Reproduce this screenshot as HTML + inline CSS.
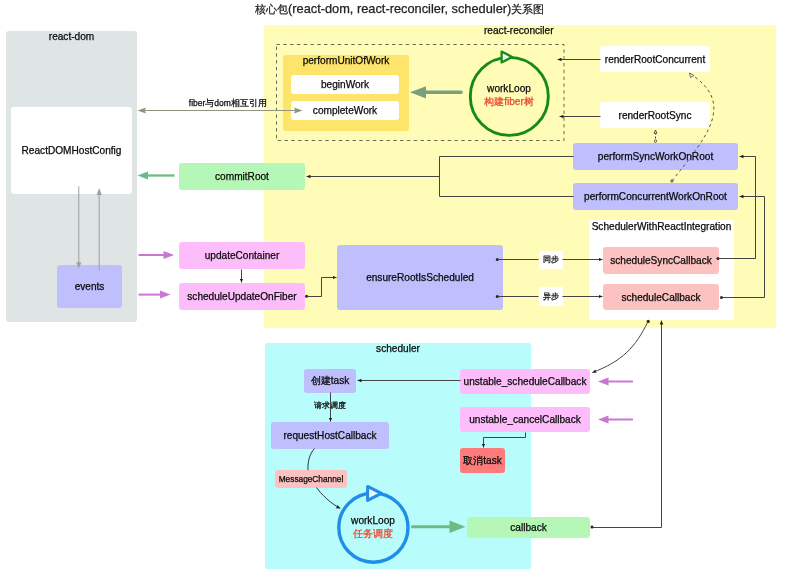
<!DOCTYPE html>
<html><head><meta charset="utf-8">
<style>
html,body{margin:0;padding:0;background:#fff;}
body{width:800px;height:576px;position:relative;overflow:hidden;font-family:"Liberation Sans",sans-serif;color:#0a0a0a;-webkit-text-stroke:0.25px currentColor;}
.b{position:absolute;box-sizing:border-box;display:flex;align-items:center;justify-content:center;font-size:10.1px;white-space:nowrap;border-radius:3px;}
.t{position:absolute;white-space:nowrap;font-size:10.1px;line-height:1;}
svg{position:absolute;left:0;top:0;}
</style></head><body><div style="position:absolute;left:0;top:0;width:800px;height:576px;filter:blur(0.25px)">
<div class="t" style="left:255px;top:3px;font-size:12.8px;color:#222"><span style="font-size:11.35px">核心包</span>(react-dom, react-reconciler, scheduler)<span style="font-size:11px">关系图</span></div>

<!-- react-dom panel -->
<div class="b" style="left:6px;top:31px;width:131px;height:291px;background:#dee5e4;"></div>
<div class="t" style="left:6px;width:131px;text-align:center;top:32px;">react-dom</div>
<div class="b" style="left:11px;top:107px;width:121px;height:87px;background:#fff;">ReactDOMHostConfig</div>
<div class="b" style="left:57px;top:265px;width:65px;height:43px;background:#bfbffd;">events</div>

<!-- react-reconciler panel -->
<div class="b" style="left:264px;top:25px;width:512px;height:302.6px;background:#fffcb8;border-radius:2px"></div>
<div class="t" style="left:484px;top:26px;">react-reconciler</div>
<div class="b" style="left:283px;top:55px;width:126px;height:76px;background:#fde46a;"></div>
<div class="t" style="left:283px;width:126px;text-align:center;top:56px;">performUnitOfWork</div>
<div class="b" style="left:291px;top:74.5px;width:108px;height:19px;background:#fff;">beginWork</div>
<div class="b" style="left:291px;top:101px;width:108px;height:19px;background:#fff;">completeWork</div>
<div class="b" style="left:600px;top:46px;width:110px;height:26px;background:#fff;">renderRootConcurrent</div>
<div class="b" style="left:600px;top:102px;width:110px;height:26px;background:#fff;">renderRootSync</div>
<div class="b" style="left:573px;top:143px;width:165px;height:27px;background:#bfbffd;">performSyncWorkOnRoot</div>
<div class="b" style="left:573px;top:183px;width:165px;height:27px;background:#bfbffd;">performConcurrentWorkOnRoot</div>
<div class="b" style="left:179px;top:163px;width:126px;height:27px;background:#b4f7b6;">commitRoot</div>
<div class="b" style="left:179px;top:242px;width:126px;height:27px;background:#fdbdfb;">updateContainer</div>
<div class="b" style="left:179px;top:283px;width:126px;height:27px;background:#fdbdfb;">scheduleUpdateOnFiber</div>
<div class="b" style="left:337px;top:245px;width:166px;height:65px;background:#bfbffd;">ensureRootIsScheduled</div>
<div class="b" style="left:589px;top:220px;width:145px;height:100px;background:#fff;border-radius:0"></div>
<div class="t" style="left:589px;width:145px;text-align:center;top:222px;">SchedulerWithReactIntegration</div>
<div class="b" style="left:603px;top:247px;width:116px;height:27px;background:#fcc2c2;">scheduleSyncCallback</div>
<div class="b" style="left:603px;top:284px;width:116px;height:26px;background:#fcc2c2;">scheduleCallback</div>
<div class="b" style="left:538.5px;top:250.6px;width:24.2px;height:18.6px;background:#fff;border-radius:0;font-size:8px">同步</div>
<div class="b" style="left:538.5px;top:287.3px;width:24.2px;height:18.6px;background:#fff;border-radius:0;font-size:8px">异步</div>

<!-- scheduler panel -->
<div class="b" style="left:265px;top:343px;width:266px;height:226px;background:#b8fcfc;border-radius:2px"></div>
<div class="t" style="left:265px;width:266px;text-align:center;top:344.3px;">scheduler</div>
<div class="b" style="left:304px;top:369px;width:52px;height:23.5px;background:#bfbffd;">创建task</div>
<div class="t" style="left:314px;top:401.8px;font-size:8px">请求调度</div>
<div class="b" style="left:271px;top:422px;width:118px;height:26.5px;background:#bfbffd;">requestHostCallback</div>
<div class="b" style="left:275px;top:470px;width:72px;height:17.5px;background:#fcc2c2;font-size:8.3px">MessageChannel</div>
<div class="b" style="left:460px;top:369px;width:130px;height:25px;background:#fdbdfb;">unstable_scheduleCallback</div>
<div class="b" style="left:460px;top:407px;width:130px;height:25px;background:#fdbdfb;">unstable_cancelCallback</div>
<div class="b" style="left:460px;top:448px;width:45px;height:25px;background:#fd7b7b;">取消task</div>
<div class="b" style="left:467px;top:517px;width:123px;height:21px;background:#b4f7b6;">callback</div>

<svg width="800" height="576" viewBox="0 0 800 576">
  <defs>
    <marker id="ah" viewBox="0 0 4 4" refX="4" refY="2" markerWidth="4" markerHeight="4" markerUnits="userSpaceOnUse" orient="auto"><path d="M0,0.2 L4,2 L0,3.8 z" fill="#222"/></marker>
  </defs>
  <!-- dashed box -->
  <rect x="276.5" y="44.5" width="287.5" height="96" fill="none" stroke="#5a5a4a" stroke-width="0.9" stroke-dasharray="3.4,3.4"/>
  <!-- green circle reconciler -->
  <circle cx="509.3" cy="96.4" r="39" fill="none" stroke="#158a15" stroke-width="2.9"/>
  <path d="M501.6,51.6 L512.2,57 L501.6,62.4 z" fill="#e8f8f8" stroke="#178c17" stroke-width="2.3" stroke-linejoin="round"/>
  <!-- blue circle scheduler -->
  <circle cx="373.4" cy="527.6" r="34.6" fill="none" stroke="#1f8ee9" stroke-width="3.4"/>
  <path d="M367.6,486.4 L381.4,493.4 L367.6,500.4 z" fill="#eef8ff" stroke="#1f8ee9" stroke-width="3" stroke-linejoin="round"/>

  <!-- fiber<->dom -->
  <line x1="145" y1="110.5" x2="295" y2="110.5" stroke="#8f947a" stroke-width="1.2"/>
  <path d="M137.5,110.5 L146,107.4 L144.8,110.5 L146,113.6 z" fill="#8f947a"/>
  <path d="M302.5,110.5 L294,107.4 L295.2,110.5 L294,113.6 z" fill="#8f947a"/>

  <!-- commitRoot -> ReactDOMHostConfig -->
  <line x1="147" y1="175.5" x2="174.5" y2="175.5" stroke="#6dbb84" stroke-width="2.3"/>
  <path d="M137.5,175.5 L148,171.5 L148,179.5 z" fill="#6dbb84"/>

  <!-- big green arrow workLoop -> performUnitOfWork -->
  <line x1="424" y1="92.3" x2="461" y2="92.3" stroke="#7b9f7b" stroke-width="3.5" stroke-linecap="round"/>
  <path d="M410,92.3 L426,86.2 L426,98.5 z" fill="#7b9f7b"/>

  <!-- pink arrows -->
  <line x1="138.5" y1="255" x2="165" y2="255" stroke="#c878d2" stroke-width="2"/>
  <path d="M174.2,255 L163.5,251 L163.5,259 z" fill="#c878d2"/>
  <line x1="138.5" y1="294.6" x2="162" y2="294.6" stroke="#c878d2" stroke-width="2"/>
  <path d="M170.5,294.6 L160,290.6 L160,298.6 z" fill="#c878d2"/>

  <!-- gray arrows in react-dom -->
  <line x1="78.8" y1="186.3" x2="78.8" y2="263" stroke="#a0a0a0" stroke-width="1"/>
  <path d="M78.8,268.5 L76.2,262.3 L81.4,262.3 z" fill="#a0a0a0"/>
  <line x1="99.2" y1="194" x2="99.2" y2="270.6" stroke="#a0a0a0" stroke-width="1"/>
  <path d="M99.2,188 L96.6,195 L101.8,195 z" fill="#a0a0a0"/>

  <!-- updateContainer -> scheduleUpdateOnFiber -->
  <path d="M241.5,269.5 L241.5,282.5" stroke="#444" stroke-width="1" fill="none" marker-end="url(#ah)"/>
  <!-- scheduleUpdateOnFiber -> ensureRootIsScheduled -->
  <circle cx="306.6" cy="296.3" r="1.5" fill="#222"/>
  <path d="M306.5,296.5 L321.5,296.5 L321.5,277.5 L336.5,277.5" stroke="#444" stroke-width="1" fill="none" marker-end="url(#ah)"/>

  <!-- perform* -> commitRoot -->
  <path d="M573.5,156.5 L439.5,156.5 L439.5,196.5 L573.5,196.5" stroke="#444" stroke-width="1" fill="none"/>
  <path d="M439.5,176.5 L306.5,176.5" stroke="#444" stroke-width="1" fill="none" marker-end="url(#ah)"/>

  <!-- ensureRootIsScheduled -> schedule*Callback -->
  <circle cx="497.3" cy="259.5" r="1.5" fill="#222"/>
  <path d="M497.5,259.5 L538.5,259.5 M562.5,259.5 L602.5,259.5" stroke="#444" stroke-width="1" fill="none" marker-end="url(#ah)"/>
  <circle cx="497.3" cy="296.4" r="1.5" fill="#222"/>
  <path d="M497.5,296.5 L538.5,296.5 M562.5,296.5 L602.5,296.5" stroke="#444" stroke-width="1" fill="none" marker-end="url(#ah)"/>

  <!-- scheduleSyncCallback -> performSyncWorkOnRoot -->
  <circle cx="718" cy="258.5" r="1.5" fill="#222"/>
  <path d="M718,258.5 L755.5,258.5 L755.5,156.5 L739.5,156.5" stroke="#444" stroke-width="1" fill="none" marker-end="url(#ah)"/>
  <circle cx="721.5" cy="297.5" r="1.5" fill="#222"/>
  <path d="M721.5,297.5 L764.5,297.5 L764.5,196.5 L739.5,196.5" stroke="#444" stroke-width="1" fill="none" marker-end="url(#ah)"/>

  <!-- renderRoot* -> dashed box -->
  <path d="M600.5,59.5 L557.5,59.5" stroke="#444" stroke-width="1" fill="none" marker-end="url(#ah)"/>
  <path d="M600.5,116.5 L559.5,116.5" stroke="#444" stroke-width="1" fill="none" marker-end="url(#ah)"/>

  <!-- performSyncWorkOnRoot -> renderRootSync dashed -->
  <path d="M655.5,142.5 L655.5,131" stroke="#333" stroke-width="0.9" stroke-dasharray="2,2" fill="none"/>
  <path d="M655.5,130 L654.1,133.4 L656.9,133.4 z" fill="#fffcb8" stroke="#333" stroke-width="0.8"/>
  <circle cx="655.5" cy="141" r="1.2" fill="#fffbb8" stroke="#333" stroke-width="0.7"/>
  <!-- performConcurrentWorkOnRoot -> renderRootConcurrent dashed curve -->
  <path d="M671.9,181 C708.9,134.7 735.6,102.6 689.3,73.2" stroke="#444" stroke-width="0.9" stroke-dasharray="3,3" fill="none"/>
  <circle cx="671.9" cy="181" r="1.2" fill="#bfbffd" stroke="#333" stroke-width="0.7"/>
  <path d="M689.5,73 L690.5,77.5 L693.8,75.5 z" fill="#fff" stroke="#333" stroke-width="0.7"/>

  <!-- SchedulerWithReactIntegration -> unstable_scheduleCallback curve -->
  <circle cx="648.2" cy="321.4" r="1.6" fill="#222"/>
  <path d="M648,321.4 C635.5,347.4 622.3,361.1 592.3,372.6" stroke="#444" stroke-width="1" fill="none" marker-end="url(#ah)"/>

  <!-- callback -> SchedulerWithReactIntegration -->
  <circle cx="592" cy="527" r="1.5" fill="#222"/>
  <path d="M592.5,527.5 L661.5,527.5 L661.5,320.5" stroke="#444" stroke-width="1" fill="none" marker-end="url(#ah)"/>

  <!-- unstable_scheduleCallback -> 创建task -->
  <path d="M460.5,380.5 L357.5,380.5" stroke="#444" stroke-width="1" fill="none" marker-end="url(#ah)"/>

  <!-- purple arrows into unstable_* -->
  <line x1="607" y1="381.5" x2="633" y2="381.5" stroke="#c878d2" stroke-width="2"/>
  <path d="M598,381.5 L608.5,377.5 L608.5,385.5 z" fill="#c878d2"/>
  <line x1="607" y1="419.5" x2="633" y2="419.5" stroke="#c878d2" stroke-width="2"/>
  <path d="M598,419.5 L608.5,415.5 L608.5,423.5 z" fill="#c878d2"/>

  <!-- unstable_cancelCallback -> 取消task -->
  <path d="M525.5,432.5 L525.5,437.5 L483.5,437.5 L483.5,447.5" stroke="#444" stroke-width="1" fill="none" marker-end="url(#ah)"/>

  <!-- 创建task -> requestHostCallback -->
  <path d="M330.5,392.5 L330.5,421.5" stroke="#444" stroke-width="1" fill="none" marker-end="url(#ah)"/>
  <!-- requestHostCallback -> MessageChannel -->
  <path d="M314.5,448.5 C309.5,454 307.5,462 308,470.2" stroke="#222" stroke-width="0.9" fill="none"/>
  <!-- MessageChannel -> workLoop -->
  <path d="M316.5,487.5 C321,494 330,503 340.3,508.4" stroke="#222" stroke-width="0.9" fill="none" marker-end="url(#ah)"/>

  <!-- blue circle -> callback -->
  <line x1="412.5" y1="526.8" x2="452" y2="526.8" stroke="#6dbb84" stroke-width="3" stroke-linecap="round"/>
  <path d="M465.5,526.8 L449.5,520.6 L449.5,533 z" fill="#6dbb84"/>
</svg>
<div class="t" style="left:469px;width:80px;text-align:center;top:84.2px;">workLoop</div>
<div class="t" style="left:469px;width:80px;text-align:center;top:97.4px;color:#e8452a">构建fiber树</div>
<div class="t" style="left:333px;width:80px;text-align:center;top:515.6px;">workLoop</div>
<div class="t" style="left:333px;width:80px;text-align:center;top:529px;color:#e8452a">任务调度</div>
<div class="t" style="left:188.8px;top:99.3px;font-size:8.5px">fiber与dom相互引用</div>
</div></body></html>
